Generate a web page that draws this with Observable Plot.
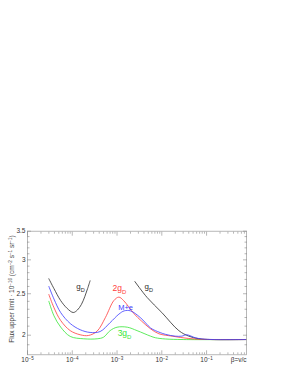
<!DOCTYPE html>
<html><head><meta charset="utf-8">
<script src="https://cdn.jsdelivr.net/npm/d3@7"></script>
<script src="https://cdn.jsdelivr.net/npm/@observablehq/plot@0.6"></script>
<style>body{margin:0;background:#fff;} svg{display:block}</style>
</head><body><div id="chart"></div>
<script>
// ---- data ----
const betaGD1 = [3.0e-5, 3.9e-5, 5.5e-5, 7.7e-5, 1.05e-4, 1.3e-4, 1.6e-4, 1.9e-4, 2.2e-4, 2.5e-4];
const fluxGD1 = [2.71, 2.57, 2.41, 2.31, 2.26, 2.29, 2.36, 2.46, 2.57, 2.68];

const betaGD2 = [2.5e-3, 4.7e-3, 1.0e-2, 2.4e-2, 4.0e-2, 6.7e-2, 0.13, 0.75];
const fluxGD2 = [2.67, 2.45, 2.26, 2.05, 1.99, 1.962, 1.954, 1.954];

const beta2GD = [3e-5, 3.9e-5, 5.5e-5, 9e-5, 1.5e-4, 2.3e-4, 3.6e-4, 5.5e-4, 8.5e-4, 1.1e-3, 1.4e-3, 2.4e-3, 3.5e-3, 5.6e-3, 8.6e-3, 1.7e-2, 4e-2, 0.1, 0.75];
const flux2GD = [2.49, 2.32, 2.165, 2.05, 2.005, 1.997, 2.045, 2.20, 2.41, 2.455, 2.41, 2.245, 2.16, 2.07, 2.016, 1.99, 1.965, 1.955, 1.954];

const betaME = [3e-5, 3.9e-5, 5.5e-5, 9e-5, 1.5e-4, 2.5e-4, 4.2e-4, 7e-4, 1.1e-3, 1.45e-3, 2.0e-3, 3.3e-3, 5.6e-3, 7.2e-3, 1.2e-2, 2.0e-2, 2.8e-2, 3.6e-2, 5.6e-2, 8e-2, 0.15, 0.75];
const fluxME = [2.60, 2.43, 2.26, 2.13, 2.06, 2.03, 2.04, 2.14, 2.24, 2.28, 2.28, 2.20, 2.08, 2.05, 2.01, 1.99, 1.99, 2.005, 1.973, 1.96, 1.954, 1.954];

const beta3GD = [3e-5, 3.9e-5, 5.5e-5, 9e-5, 1.8e-4, 3.6e-4, 5e-4, 7e-4, 1.0e-3, 1.7e-3, 2.8e-3, 5.6e-3, 7.2e-3, 1.2e-2, 0.03, 0.75];
const flux3GD = [2.40, 2.22, 2.09, 1.987, 1.962, 1.962, 1.979, 2.05, 2.088, 2.088, 2.05, 1.99, 1.973, 1.96, 1.954, 1.954];

const labelNames = ["g_{D}", "g_{D}", "2g_{D}", "M+e", "3g_{D}"];
const labelBeta  = [1.9e-4, 4.1e-3, 1.135e-3, 1.55e-3, 1.47e-3];
const labelFlux  = [2.60, 2.60, 2.57, 2.32, 2.016];

const xMajorTicks = [1e-5, 1e-4, 1e-3, 1e-2, 1e-1];
const xTickLabels = ["10^{−5}", "10^{−4}", "10^{−3}", "10^{−2}", "10^{−1}"];
const yMajorTicks = [2, 2.5, 3, 3.5];
const yTickLabels = ["2", "2.5", "3", "3.5"];
const xTitle = "β=v/c";
const yTitle = "Flux upper limit · 10^{−16} (cm^{−2} s^{−1} sr^{−1})";

// ---- styles ----
const C = {black: "#2a2a2a", red: "#ff3b3b", blue: "#3b3bff", green: "#35e635"};
const lw = 0.8;

const rows = (b, f) => b.map((v, i) => ({beta: v, flux: f[i]}));
const minorX = [];
for (let e = -5; e < 0; e++) for (let k = 2; k <= 9; k++) { const v = k * 10 ** e; if (v <= 0.78) minorX.push(v); }
const minorY = d3.range(19, 35).map(d => d / 10).filter(v => !yMajorTicks.includes(v));

const line = (b, f, color) => Plot.line(rows(b, f), {x: "beta", y: "flux", stroke: color, strokeWidth: lw, curve: "catmull-rom"});
const label = (i, color, size, anchor = "middle") =>
  Plot.text([i], {x: j => labelBeta[j], y: j => labelFlux[j], text: j => labelNames[j], fill: color, fontSize: size, textAnchor: anchor});

const tickAx = (axis, anchor, ticks, size) => axis({anchor, ticks, tickSize: size, fill: "none", label: null, stroke: "#888", strokeWidth: 0.6});

const chart = Plot.plot({
  width: 295, height: 382,
  marginTop: 230.7, marginBottom: 27.7, marginLeft: 27, marginRight: 49,
  style: {fontFamily: "Liberation Sans, Arial, sans-serif", background: "#fff"},
  x: {type: "log", domain: [1e-5, 0.78]},
  y: {type: "log", domain: [1.8, 3.5]},
  marks: [
    Plot.frame({stroke: "#999", strokeWidth: 0.7}),
    tickAx(Plot.axisX, "bottom", minorX, -2),
    tickAx(Plot.axisX, "bottom", xMajorTicks, -4),
    tickAx(Plot.axisX, "top", minorX, -2),
    tickAx(Plot.axisX, "top", xMajorTicks, -4),
    tickAx(Plot.axisY, "left", minorY, -2.5),
    tickAx(Plot.axisY, "left", yMajorTicks, -4),
    tickAx(Plot.axisY, "right", minorY, -2.5),
    tickAx(Plot.axisY, "right", yMajorTicks, -4),
    Plot.axisX({anchor: "bottom", ticks: xMajorTicks, tickSize: 0, tickPadding: 3, tickFormat: d => xTickLabels[xMajorTicks.indexOf(d)], label: null, fill: "#333", fontSize: 6.5}),
    Plot.axisY({anchor: "left", ticks: yMajorTicks, tickSize: 0, tickPadding: 2, tickFormat: d => yTickLabels[yMajorTicks.indexOf(d)], label: null, fill: "#333", fontSize: 6.5}),
    Plot.text([xTitle], {frameAnchor: "bottom-right", textAnchor: "end", lineAnchor: "top", dy: 3, fontSize: 6.5, fill: "#333"}),
    Plot.text([yTitle], {frameAnchor: "left", textAnchor: "middle", rotate: -90, dx: -16, dy: -4, fontSize: 6.5, fill: "#444"}),
    line(betaGD1, fluxGD1, C.black),
    line(betaGD2, fluxGD2, C.black),
    line(beta3GD, flux3GD, C.green),
    line(beta2GD, flux2GD, C.red),
    line(betaME, fluxME, C.blue),
    label(0, C.black, 8, "end"),
    label(1, C.black, 8, "start"),
    label(2, C.red, 8.5),
    label(3, C.blue, 7.5),
    label(4, C.green, 8.5)
  ]
});

const markup = s => s
  .replace(/\^\{([^}]*)\}/g, '<tspan baseline-shift="super" font-size="70%">$1</tspan>')
  .replace(/_\{([^}]*)\}/g, '<tspan baseline-shift="sub" font-size="70%">$1</tspan>');
chart.querySelectorAll("text, tspan").forEach(t => {
  if (t.children.length === 0 && /[\^_]\{/.test(t.textContent)) t.innerHTML = markup(t.textContent);
});
document.getElementById("chart").appendChild(chart);
</script>
</body></html>
